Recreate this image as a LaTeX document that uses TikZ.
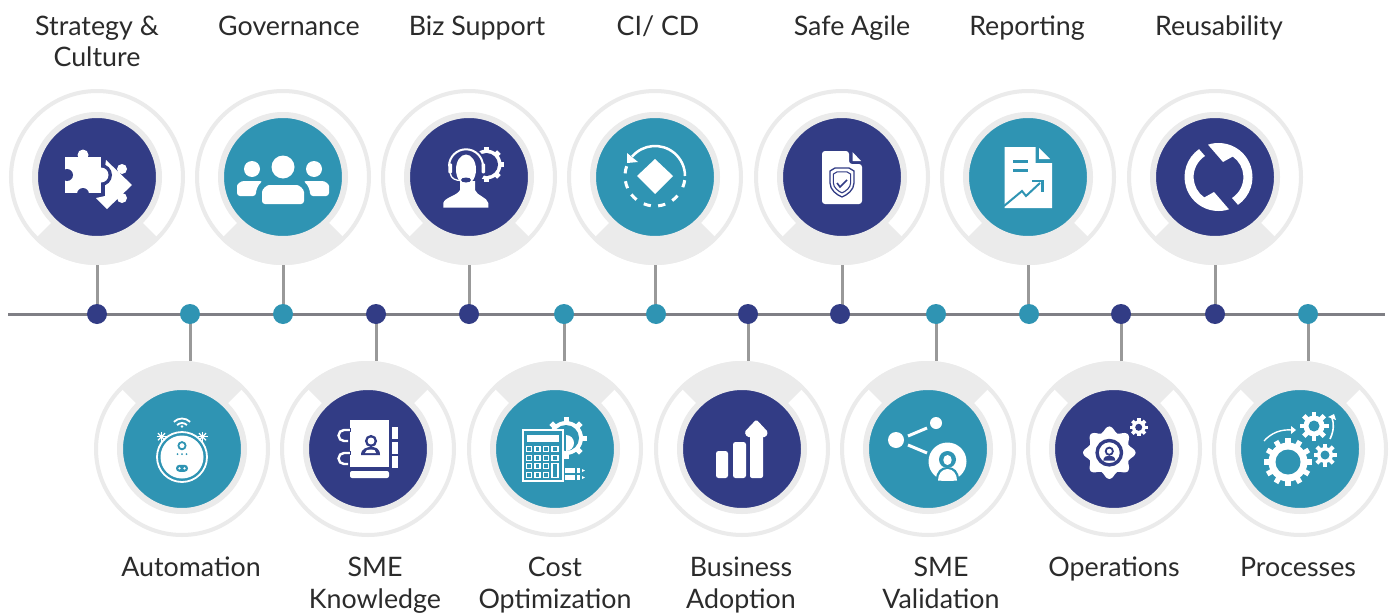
\documentclass[tikz,border=0pt]{standalone}
\usepackage{fontspec}
\setmainfont{Lato}
\definecolor{hubnavy}{HTML}{323C85}
\definecolor{hubteal}{HTML}{2F94B3}
\definecolor{ringgray}{HTML}{EBEBEB}
\definecolor{stemgray}{HTML}{999999}
\definecolor{axisgray}{HTML}{7F7F85}
\definecolor{labelcol}{HTML}{2B2B2B}
\tikzset{
  ring/.style={circle,draw=ringgray,line width=4,minimum size=172,inner sep=0},
  hub/.style={circle,draw=ringgray,line width=6,minimum size=124,inner sep=0},
  dotnode/.style={circle,minimum size=20,inner sep=0},
  stemline/.style={draw=stemgray,line width=3},
  axisline/.style={draw=axisgray,line width=3},
  lab/.style={align=center,text=labelcol,font=\fontsize{26.8}{31.5}\selectfont,inner sep=0},
}
\newcommand{\tophub}[3]{%
  \fill[ringgray] (#2,177) ++(45:88) arc[start angle=45,end angle=135,radius=88] -- (#2,177) -- cycle;
  \node[ring] (r#1) at (#2,177) {};
  \node[hub,fill=#3] (h#1) at (#2,177) {};}
\newcommand{\bothub}[3]{%
  \fill[ringgray] (#2,449) ++(-135:88) arc[start angle=-135,end angle=-45,radius=88] -- (#2,449) -- cycle;
  \node[ring] (r#1) at (#2,449) {};
  \node[hub,fill=#3] (h#1) at (#2,449) {};}
% cx cy router rbody rhole teeth halfwidth holecolor
\newcommand{\cog}[8]{%
  \begin{scope}[shift={(#1,#2)}]
  \foreach \i in {1,...,#6}{\fill[white,rotate={\i*360/#6}] (#4-1,-#7) rectangle (#3,#7);}
  \fill[white] (0,0) circle[radius=#4];
  \fill[#8] (0,0) circle[radius=#5];
  \end{scope}}
\begin{document}
\begin{tikzpicture}[x=1pt,y=1pt,yscale=-1]
\useasboundingbox (0,0) rectangle (1395,613);
\fill[white] (0,0) rectangle (1395,613);
% hubs
\tophub{1}{97}{hubnavy}
\tophub{3}{283}{hubteal}
\tophub{5}{469}{hubnavy}
\tophub{7}{655}{hubteal}
\tophub{9}{842}{hubnavy}
\tophub{11}{1028}{hubteal}
\tophub{13}{1215}{hubnavy}
\bothub{2}{182}{hubteal}
\bothub{4}{368}{hubnavy}
\bothub{6}{555}{hubteal}
\bothub{8}{742}{hubnavy}
\bothub{10}{928}{hubteal}
\bothub{12}{1114}{hubnavy}
\bothub{14}{1300}{hubteal}
% axis
\coordinate (axL) at (8,314);
\coordinate (axR) at (1385,314);
\draw[axisline] (axL) -- (axR);
% dots
\foreach \n/\x/\c in {1/97/hubnavy,2/190/hubteal,3/283/hubteal,4/376/hubnavy,5/469/hubnavy,6/564/hubteal,7/656/hubteal,8/748/hubnavy,9/840/hubnavy,10/936/hubteal,11/1029/hubteal,12/1121/hubnavy,13/1215/hubnavy,14/1308/hubteal}{
  \coordinate (c\n) at (\x,314);
}
\foreach \n in {1,3,5,7,9,11,13}{\draw[stemline] (r\n.south) -- (r\n.south |- c\n);}
\foreach \n in {2,4,6,8,10,12,14}{\draw[stemline] (c\n) -- (c\n |- r\n.north);}
\foreach \n/\x/\c in {1/97/hubnavy,2/190/hubteal,3/283/hubteal,4/376/hubnavy,5/469/hubnavy,6/564/hubteal,7/656/hubteal,8/748/hubnavy,9/840/hubnavy,10/936/hubteal,11/1029/hubteal,12/1121/hubnavy,13/1215/hubnavy,14/1308/hubteal}{
  \node[dotnode,fill=\c] (d\n) at (\x,314) {};
}
% labels
\node[lab] (t1) at (97,44.5) {\strut Strategy \&\\\strut Culture};
\node[lab] (t3) at (289,28.7) {\strut Governance};
\node[lab] (t5) at (477,28.7) {\strut Biz Support};
\node[lab] (t7) at (658,28.7) {\strut CI/ CD};
\node[lab] (t9) at (852,28.7) {\strut Safe Agile};
\node[lab] (t11) at (1027,28.7) {\strut Reporting};
\node[lab] (t13) at (1219,28.7) {\strut Reusability};
\node[lab] (t2) at (191,570.4) {\strut Automation};
\node[lab] (t4) at (375,586.2) {\strut SME\\\strut Knowledge};
\node[lab] (t6) at (555,586.2) {\strut Cost\\\strut Optimization};
\node[lab] (t8) at (741,586.2) {\strut Business\\\strut Adoption};
\node[lab] (t10) at (941,586.2) {\strut SME\\\strut Validation};
\node[lab] (t12) at (1114,570.4) {\strut Operations};
\node[lab] (t14) at (1298,570.4) {\strut Processes};
% ---- icon 1 puzzle
\begin{scope}[shift={(97,177)}]
\fill[white] (9,-17) -- (35,8) -- (10,32) -- (-1,21) -- (8,19) -- (8,-10) -- cycle;
\fill[white] (25,-8) circle[radius=5];
\fill[white] (25,21) circle[radius=5];
\fill[hubnavy] (4,-2) circle[radius=11];
\fill[white] (-32,-20) rectangle (4,16);
\fill[white] (-14,-22) circle[radius=5.5];
\fill[hubnavy] (-30,-2) circle[radius=6];
\fill[hubnavy] (-14,17) circle[radius=6];
\fill[white] (4,-2) circle[radius=7.5];
\end{scope}
% ---- icon 3 people
\begin{scope}[shift={(283,177)}]
\fill[white] (0,-10) circle[radius=11.5];
\fill[white] (-31,-8) circle[radius=8];
\fill[white] (31,-8) circle[radius=8];
\fill[white,rounded corners=3] (-46,19) -- (-46,12) .. controls (-46,7) and (-42,4) .. (-36,4) -- (-20,4) .. controls (-25,8) and (-27,13) .. (-27,19) -- cycle;
\fill[white,rounded corners=3] (46,19) -- (46,12) .. controls (46,7) and (42,4) .. (36,4) -- (20,4) .. controls (25,8) and (27,13) .. (27,19) -- cycle;
\fill[white,rounded corners=3] (-21,27) -- (-21,18) .. controls (-21,12) and (-16,8) .. (-11,8) -- (11,8) .. controls (16,8) and (21,12) .. (21,18) -- (21,27) -- cycle;
\end{scope}
% ---- icon 5 headset
\begin{scope}[shift={(469,177)}]
\cog{17.5}{-12.5}{17.5}{15}{11.5}{8}{2.5}{hubnavy}
\fill[hubnavy] (-3,-10.7) circle[radius=20];
\draw[white,line width=2] (-20,-10.7) arc[start angle=180,end angle=360,radius=17];
\fill[white,rounded corners=1] (-20.7,-13.7) rectangle (-17,-3.7);
\fill[white,rounded corners=1] (12.7,-13.7) rectangle (16,-3.7);
\fill[white] (-3,-7.5) ellipse[x radius=10,y radius=15];
\fill[white] (-25.7,30.7) -- (-25.7,26) .. controls (-24,20) and (-12,19) .. (-9,13) -- (-9,4) -- (6,4) -- (6,13) .. controls (8,19) and (18,20) .. (19.3,26) -- (19.3,30.7) -- cycle;
\draw[white,line width=1.3] (-18.8,-3.7) .. controls (-18,2) and (-13,3.5) .. (-8,3.5);
\fill[hubnavy] (-3,3) ellipse[x radius=5,y radius=2.5];
\end{scope}
% ---- icon 7 CI/CD
\begin{scope}[shift={(655,177)}]
\fill[white] (0,-18) -- (18,-1) -- (0,17) -- (-18,-1) -- cycle;
\begin{scope}[shift={(0,-1)}]
\draw[white,line width=2.5] (-140:30) arc[start angle=-140,end angle=0,radius=30];
\foreach \a in {15,48,77,105,135,163,192}{
  \draw[white,line width=3] ({\a-7}:30) arc[start angle={\a-7},end angle={\a+7},radius=30];}
\end{scope}
\fill[white] (-28,-24) -- (-28,-14) -- (-17,-15) -- cycle;
\end{scope}
% ---- icon 9 doc shield
\begin{scope}[shift={(842,177)}]
\fill[white,rounded corners=3] (-20,-26) -- (7,-26) -- (7,-13) -- (20,-13) -- (20,27) -- (-20,27) -- cycle;
\fill[white] (10.5,-25) -- (10.5,-16) -- (19,-16) -- cycle;
\draw[hubnavy,line width=1.3,line join=round] (-7,-9) -- (7,-9) -- (12,-6) -- (12,6) .. controls (12,13) and (5,18) .. (0,20) .. controls (-5,18) and (-12,13) .. (-12,6) -- (-12,-6) -- cycle;
\begin{scope}[shift={(0,5)},scale=.72]
\draw[hubnavy,line width=1.1,line join=round,shift={(0,-5)}] (-7,-9) -- (7,-9) -- (12,-6) -- (12,6) .. controls (12,13) and (5,18) .. (0,20) .. controls (-5,18) and (-12,13) .. (-12,6) -- (-12,-6) -- cycle;
\end{scope}
\draw[hubnavy,line width=1.6] (-5,6) -- (-2,10) -- (5,3);
\end{scope}
% ---- icon 11 report
\begin{scope}[shift={(1028,177)}]
\fill[white] (-23.5,-30) -- (7.5,-30) -- (7.5,-14) -- (24,-14) -- (24,31) -- (-23.5,31) -- cycle;
\fill[white] (11,-29) -- (11,-18) -- (22,-18) -- cycle;
\draw[hubteal,line width=3] (-15,-16) -- (0,-16);
\draw[hubteal,line width=3] (-15,-7) -- (0,-7);
\draw[hubteal,line width=2] (-24,29) -- (-6,14) -- (-2,19) -- (12,6);
\draw[hubteal,line width=2.5] (4,4) -- (14.5,4) -- (14.5,15);
\end{scope}
% ---- icon 13 reuse
\begin{scope}[shift={(1215,177)}]
\fill[white] (3.5,0) ++(-108:34) arc[start angle=-108,end angle=55,radius=34] -- (17,21) arc[start angle=57,end angle=-55,radius=25] -- (8,-15) -- cycle;
\begin{scope}[rotate around={180:(3.5,0)}]
\fill[white] (3.5,0) ++(-108:34) arc[start angle=-108,end angle=55,radius=34] -- (17,21) arc[start angle=57,end angle=-55,radius=25] -- (8,-15) -- cycle;
\end{scope}
\end{scope}
% ---- icon 2 robot
\begin{scope}[shift={(182,449)}]
\draw[white,line width=1.8] (0,-19) ++(-135:11.5) arc[start angle=-135,end angle=-45,radius=11.5];
\draw[white,line width=1.8] (0,-19) ++(-135:7) arc[start angle=-135,end angle=-45,radius=7];
\fill[white] (0,-22.5) circle[radius=1.4];
\draw[white,line width=1.8] (0,8) circle[radius=25];
\fill[white] (0,8) circle[radius=21.5];
\foreach \s in {-1,1}{
  \foreach \a in {0,45,90,135}{
    \draw[white,line width=1.3] ({\s*20.5},-12.3) ++(\a:5) -- ++({\a+180}:10);}
}
\draw[hubteal,line width=1.8] (0,-3.3) circle[radius=3.6];
\foreach \x in {-4.5,0,4.5}{\fill[hubteal] (\x,5) circle[radius=1];}
\fill[hubteal,rounded corners=3.4] (-6,15.8) rectangle (6,22.8);
\fill[white] (-2.5,19.3) circle[radius=1.3];
\fill[white] (2.5,19.3) circle[radius=1.3];
\end{scope}
% ---- icon 4 address book
\begin{scope}[shift={(368,449)}]
\fill[white] (-18,-29) rectangle (21,18);
\fill[white,rounded corners=2] (-18,22) rectangle (21,29);
\fill[white] (24,-22) rectangle (30,-10);
\fill[white] (24,-7) rectangle (30,5);
\fill[white] (24,7) rectangle (30,19);
\foreach \y in {-13,10}{
  \draw[white,line width=2.4] (-14,\y-6) -- (-24,\y-6) arc[start angle=-90,end angle=-270,radius=5.5] -- (-20,\y+5);
  \draw[hubnavy,line width=1] (-18,\y-8) -- (-18,\y-4);}
\draw[hubnavy,line width=2.4] (3,-8) circle[radius=4.8];
\fill[hubnavy] (-7,6) .. controls (-7,-1) and (0,-2) .. (3,-2) .. controls (7,-2) and (12,-1) .. (12,6) -- cycle;
\fill[white] (3,-8) circle[radius=3.4];
\draw[hubnavy,line width=1] (3,-8) circle[radius=4.5];
\fill[white] (-3,4) .. controls (-3,1) and (0,.5) .. (3,.5) .. controls (6,.5) and (8,1) .. (8,4) -- cycle;
\end{scope}
% ---- icon 6 calculator
\begin{scope}[shift={(555,449)}]
\cog{11}{-11}{21}{17}{13}{8}{2.5}{hubteal}
\fill[white] (11,-6) ++(-90:8) arc[start angle=-90,end angle=90,radius=8] -- cycle;
\fill[hubteal] (-32,-19) rectangle (8,32);
\draw[white,line width=1.5] (-32,-19) rectangle (8,32);
\fill[white] (-28,-14) rectangle (4,-7);
\foreach \y in {0,9,17,26}{
  \foreach \x in {-26,-17.5,-9}{\draw[white,line width=1.2] (\x-2.5,\y-2.3) rectangle (\x+2.5,\y+2.3);}}
\foreach \y in {0,9}{\draw[white,line width=1.2] (-3,\y-2.3) rectangle (3,\y+2.3);}
\draw[white,line width=1.2] (-3,14.7) rectangle (3,28.3);
\fill[white] (10,19) rectangle (20,24);
\fill[white] (10,26) rectangle (20,31);
\fill[white] (22,19) rectangle (25,24);
\fill[white] (22,26) rectangle (25,31);
\fill[white] (27,20) -- (30,21.5) -- (27,23) -- cycle;
\fill[white] (27,27) -- (30,28.5) -- (27,30) -- cycle;
\end{scope}
% ---- icon 8 bars
\begin{scope}[shift={(742,449)}]
\fill[white,rounded corners=2.5] (-26,2) rectangle (-14,29);
\fill[white,rounded corners=2.5] (-9,-7) rectangle (4,29);
\fill[white,rounded corners=2] (8,-14) -- (8,29) -- (21,29) -- (21,-14) -- cycle;
\fill[white,rounded corners=1.5] (2.5,-17) -- (14.3,-29.5) -- (26,-17) -- (24,-12) -- (5,-12) -- cycle;
\end{scope}
% ---- icon 10 share
\begin{scope}[shift={(928,449)}]
\fill[white] (-32,-9) circle[radius=8];
\fill[white] (8,-26) circle[radius=6];
\draw[white,line width=3] (-20,-13) -- (-1,-21);
\draw[white,line width=3] (-20,-4) -- (-1,4);
\fill[white] (19.5,12.5) circle[radius=19];
\fill[hubteal] (19.5,10.5) circle[radius=8.5];
\fill[white] (19.5,11) ellipse[x radius=4.2,y radius=5];
\fill[hubteal] (8,31) .. controls (8,22) and (13,18) .. (19.5,18) .. controls (26,18) and (31,22) .. (31,31) -- cycle;
\fill[white] (10,31.5) .. controls (10,25) and (14,20) .. (19.5,20) .. controls (25,20) and (29,25) .. (29,31.5) .. controls (25,32) and (14,32) .. (10,31.5) -- cycle;
\end{scope}
% ---- icon 12 gear person
\begin{scope}[shift={(1114,449)}]
\begin{scope}[shift={(-4.7,3.7)}]
\fill[white] plot[smooth cycle,samples=48,domain=0:352.5,variable=\t] ({(23.5+2.8*cos(8*\t))*cos(\t)},{(23.5+2.8*cos(8*\t))*sin(\t)});
\draw[hubnavy,line width=3.4] (0,0) circle[radius=12.2];
\draw[hubnavy,line width=1.8] (0,-1.5) circle[radius=3.6];
\fill[hubnavy] (-6,8) .. controls (-6,3.5) and (-2,3) .. (0,3) .. controls (2,3) and (6,3.5) .. (6,8) -- cycle;
\end{scope}
\cog{24.7}{-21.7}{9}{6.8}{3.5}{8}{1.8}{hubnavy}
\end{scope}
% ---- icon 14 gears
\begin{scope}[shift={(1300,449)}]
\cog{-12}{13}{24}{19.5}{12.5}{12}{2.6}{hubteal}
\cog{14}{-23}{14.5}{10.5}{5.5}{8}{2.4}{hubteal}
\cog{25}{6}{11.5}{8}{4.5}{8}{2}{hubteal}
\draw[white,line width=1.4] (-36,-8) .. controls (-29,-16) and (-19,-20) .. (-8,-19);
\fill[white] (-9,-23) -- (-4,-19) -- (-9,-15) -- cycle;
\draw[white,line width=1.6] (30,-10) .. controls (34,-18) and (34,-26) .. (32,-31);
\fill[white] (28,-32) -- (34,-35) -- (36,-29) -- cycle;
\end{scope}
\end{tikzpicture}
\end{document}
